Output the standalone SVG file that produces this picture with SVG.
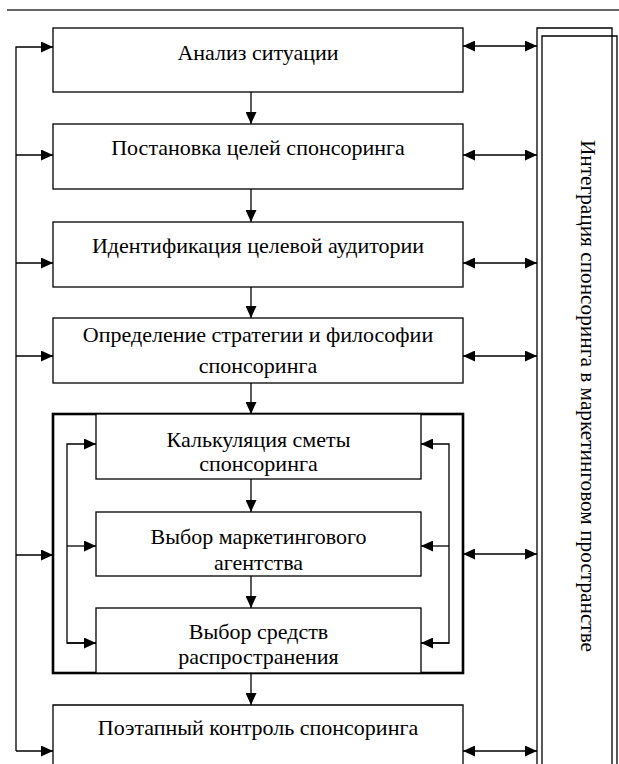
<svg xmlns="http://www.w3.org/2000/svg" width="619" height="764" viewBox="0 0 619 764">
<defs>
<style>
.box{fill:#fff;stroke:#000;stroke-width:1.3}
.thick{fill:none;stroke:#000;stroke-width:2.6}
.ln{fill:none;stroke:#000;stroke-width:1.3}
.t{font-family:"Liberation Serif","Times New Roman",serif;font-size:22px;fill:#000;text-anchor:middle}
</style>
<marker id="ah" viewBox="0 0 12 11" refX="12" refY="5.5" markerWidth="12" markerHeight="11" markerUnits="userSpaceOnUse" orient="auto-start-reverse">
<path d="M0,0 L12,5.5 L0,11 Z" fill="#000"/>
</marker>
</defs>
<rect width="619" height="764" fill="#fff"/>
<line x1="7" y1="10" x2="619" y2="10" stroke="#333" stroke-width="1.6"/>

<g id="integration">
<path class="ln" d="M537,764 V28 H612 V764"/>
<path class="ln" d="M542,764 V36 H617 V764"/>
<text class="t" style="font-size:21.3px" transform="translate(581,396) rotate(90)">Интеграция спонсоринга в маркетинговом пространстве</text>
</g>

<g id="container">
<rect class="thick" x="53" y="414" width="410" height="259"/>
</g>

<g id="n1"><rect class="box" x="53" y="28" width="410" height="64"/><text class="t" x="258" y="60">Анализ ситуации</text></g>
<g id="n2"><rect class="box" x="53" y="124" width="410" height="65"/><text class="t" x="258" y="155">Постановка целей спонсоринга</text></g>
<g id="n3"><rect class="box" x="53" y="222" width="410" height="65"/><text class="t" x="258" y="253">Идентификация целевой аудитории</text></g>
<g id="n4"><rect class="box" x="53" y="318" width="410" height="65"/><text class="t" x="258" y="342">Определение стратегии и философии</text><text class="t" x="258" y="373">спонсоринга</text></g>
<g id="n5"><rect class="box" x="96" y="414" width="325" height="65"/><text class="t" x="258.5" y="447">Калькуляция сметы</text><text class="t" x="258.5" y="471">спонсоринга</text></g>
<g id="n6"><rect class="box" x="96" y="512" width="325" height="64"/><text class="t" x="258.5" y="544">Выбор маркетингового</text><text class="t" x="258.5" y="570">агентства</text></g>
<g id="n7"><rect class="box" x="96" y="608" width="325" height="65"/><text class="t" x="258.5" y="639">Выбор средств</text><text class="t" x="258.5" y="664">распространения</text></g>
<g id="n8"><path class="box" d="M53,770 V705 H463 V770"/><text class="t" x="258" y="735">Поэтапный контроль спонсоринга</text></g>

<g id="connectors" class="ln">
<line x1="251" y1="92" x2="251" y2="124" marker-end="url(#ah)"/>
<line x1="251" y1="189" x2="251" y2="222" marker-end="url(#ah)"/>
<line x1="251" y1="287" x2="251" y2="318" marker-end="url(#ah)"/>
<line x1="251" y1="383" x2="251" y2="414" marker-end="url(#ah)"/>
<line x1="251" y1="479" x2="251" y2="512" marker-end="url(#ah)"/>
<line x1="251" y1="576" x2="251" y2="608" marker-end="url(#ah)"/>
<line x1="251" y1="673" x2="251" y2="705" marker-end="url(#ah)"/>
<path d="M16,751 V47 H53" marker-end="url(#ah)"/>
<line x1="16" y1="155" x2="53" y2="155" marker-end="url(#ah)"/>
<line x1="16" y1="263" x2="53" y2="263" marker-end="url(#ah)"/>
<line x1="16" y1="356" x2="53" y2="356" marker-end="url(#ah)"/>
<line x1="16" y1="555" x2="53" y2="555" marker-end="url(#ah)"/>
<line x1="16" y1="751" x2="53" y2="751" marker-end="url(#ah)"/>
<line x1="463" y1="46" x2="537" y2="46" marker-start="url(#ah)" marker-end="url(#ah)"/>
<line x1="463" y1="155" x2="537" y2="155" marker-start="url(#ah)" marker-end="url(#ah)"/>
<line x1="463" y1="263" x2="537" y2="263" marker-start="url(#ah)" marker-end="url(#ah)"/>
<line x1="463" y1="356" x2="537" y2="356" marker-start="url(#ah)" marker-end="url(#ah)"/>
<line x1="463" y1="554" x2="537" y2="554" marker-start="url(#ah)" marker-end="url(#ah)"/>
<line x1="463" y1="751" x2="537" y2="751" marker-start="url(#ah)" marker-end="url(#ah)"/>
<path d="M96,643 H67 V444 H96" marker-end="url(#ah)"/>
<line x1="67" y1="546" x2="96" y2="546" marker-end="url(#ah)"/>
<line x1="67" y1="643" x2="96" y2="643" marker-end="url(#ah)"/>
<path d="M421,643 H449 V444 H421" marker-end="url(#ah)"/>
<line x1="449" y1="546" x2="421" y2="546" marker-end="url(#ah)"/>
<line x1="449" y1="643" x2="421" y2="643" marker-end="url(#ah)"/>
</g>
</svg>
